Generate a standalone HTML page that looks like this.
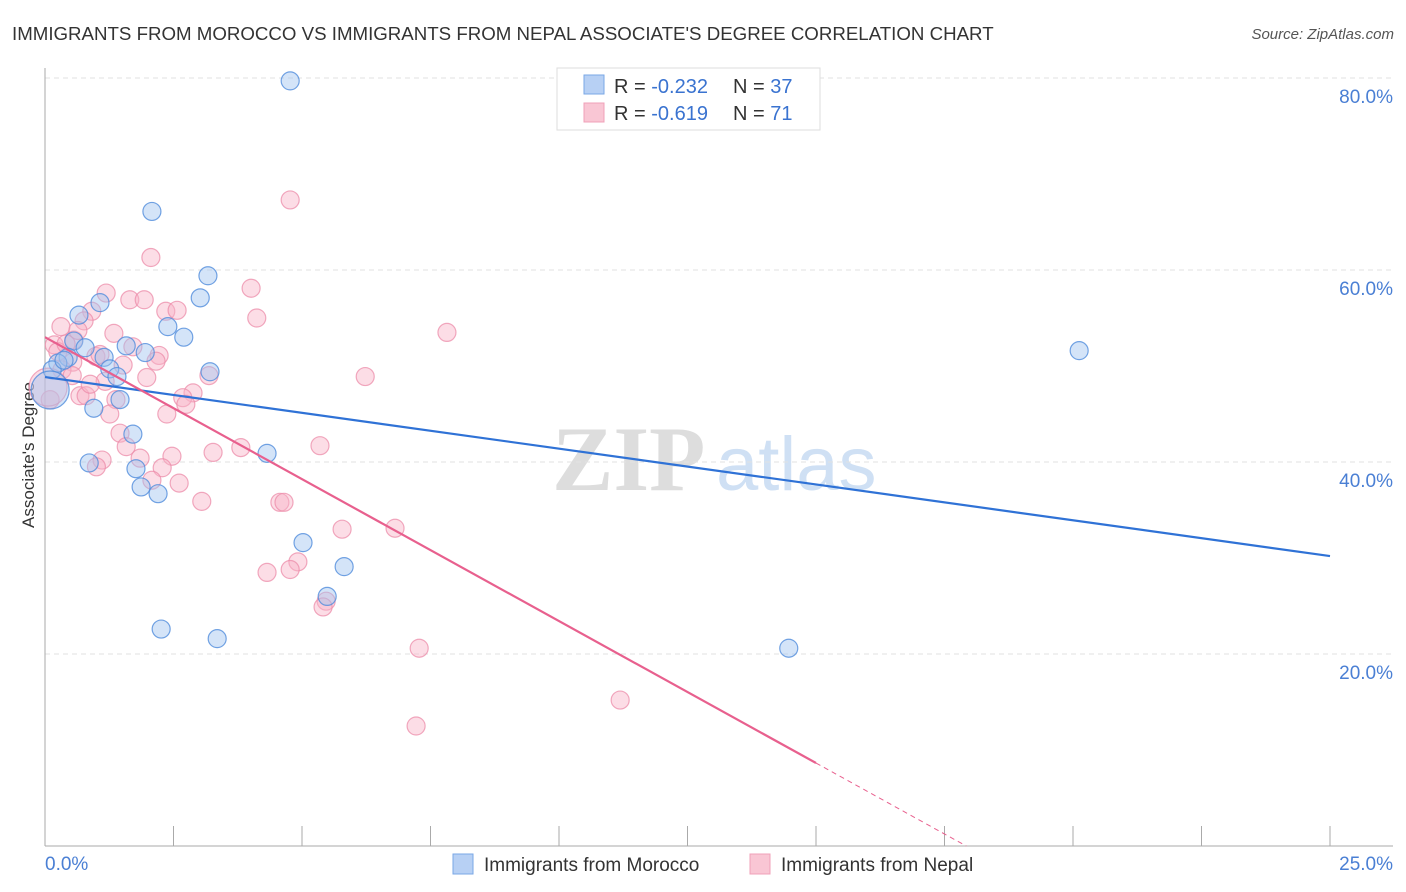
<!DOCTYPE html>
<html><head><meta charset="utf-8"><style>
body{margin:0;background:#fff;font-family:"Liberation Sans",sans-serif}
svg{display:block}
</style></head><body>
<svg id="c" width="1406" height="892">
<text x="12" y="40" font-size="18.7" fill="#333">IMMIGRANTS FROM MOROCCO VS IMMIGRANTS FROM NEPAL ASSOCIATE'S DEGREE CORRELATION CHART</text>
<text x="1394" y="39" font-size="15" fill="#555" text-anchor="end" font-style="italic">Source: ZipAtlas.com</text>
<g><text x="552" y="490" font-size="92" fill="#ddd" font-family="Liberation Serif,serif" font-weight="bold">ZIP</text><text x="716" y="490" font-size="76" fill="#cfe0f4">atlas</text></g>
<g id="grid"></g><g id="axes"></g>
<text x="34" y="455" font-size="17" fill="#333" text-anchor="middle" transform="rotate(-90 34 455)">Associate's Degree</text>
<g id="pts"></g><g id="trend"></g>
<g>
<rect x="557" y="68" width="263" height="62" fill="#fff" stroke="#ddd"/>
<rect x="584" y="75" width="20" height="19" fill="#b7d0f4" stroke="#7aa7e6"/>
<rect x="584" y="103" width="20" height="19" fill="#f9c6d4" stroke="#f0a0b8"/>
<text x="614" y="93" font-size="20" fill="#333">R = <tspan fill="#3a73d0">-0.232</tspan><tspan x="733">N = </tspan><tspan fill="#3a73d0">37</tspan></text>
<text x="614" y="120" font-size="20" fill="#333">R = <tspan fill="#3a73d0"> -0.619</tspan><tspan x="733">N = </tspan><tspan fill="#3a73d0"> 71</tspan></text>
</g>
<g>
<rect x="453" y="854" width="20" height="20" fill="#b7d0f4" stroke="#7aa7e6"/>
<text x="484" y="871" font-size="19" fill="#333">Immigrants from Morocco</text>
<rect x="750" y="854" width="20" height="20" fill="#f9c6d4" stroke="#f0a0b8"/>
<text x="781" y="871" font-size="19" fill="#333">Immigrants from Nepal</text>
</g>
</svg>
<script>
const xTicks=[0,2.5,5,7.5,10,12.5,15,17.5,20,22.5,25];
const yTicks=[20,40,60,80];
const yTickLabels=["20.0%","40.0%","60.0%","80.0%"];
const xEndLabels=["0.0%","25.0%"];
const moroccoX=[4.77,2.08,3.17,3.02,1.07,0.66,2.39,2.70,0.56,0.78,1.58,1.95,0.45,1.15,0.25,3.21,1.26,1.40,1.46,0.95,1.71,4.32,0.86,1.77,1.87,2.20,5.02,5.82,5.49,2.26,3.35,14.47,20.12,0.14,0.37,0.1];
const moroccoY=[79.7,66.1,59.4,57.1,56.6,55.3,54.1,53.0,52.6,51.9,52.1,51.4,50.9,50.9,50.3,49.4,49.7,48.9,46.5,45.6,42.9,40.9,39.9,39.3,37.4,36.7,31.6,29.1,26.0,22.6,21.6,20.6,51.6,49.6,50.6,47.5];
const nepalX=[4.77,2.06,4.01,1.19,1.65,1.93,2.35,2.57,0.91,4.12,0.76,7.82,0.31,1.34,0.56,0.18,1.71,2.22,1.52,2.16,0.54,0.99,0.33,0.53,1.98,3.19,6.23,1.17,2.88,2.68,2.74,1.38,0.68,0.80,1.26,2.37,1.46,3.81,3.27,1.58,5.35,1.85,2.47,1.11,1.0,2.28,2.08,2.61,3.05,4.57,4.65,5.78,6.81,4.92,4.77,4.32,5.47,5.41,7.28,7.22,11.19,0.1,0.25,0.88,0.41,1.07,0.64,0.06];
const nepalY=[67.3,61.3,58.1,57.6,56.9,56.9,55.7,55.8,55.7,55.0,54.7,53.5,54.1,53.4,52.7,52.2,52.0,51.1,50.1,50.5,50.4,51.0,49.6,49.0,48.8,49.0,48.9,48.4,47.2,46.7,46.0,46.5,46.9,46.9,45.0,45.0,43.0,41.5,41.0,41.6,41.7,40.4,40.6,40.2,39.5,39.4,38.1,37.8,35.9,35.8,35.8,33.0,33.1,29.6,28.8,28.5,25.5,24.9,20.6,12.5,15.2,46.5,51.5,48.1,52.3,51.2,53.7,47.8];
const moroccoTrend=[48.85,-0.746]; // intercept, slope
const nepalTrend=[53.0,-2.957];
const X=v=>45+v*51.4, Y=v=>846-v*9.6;
const NS="http://www.w3.org/2000/svg";
function mk(t,a,p){const e=document.createElementNS(NS,t);for(const k in a)e.setAttribute(k,a[k]);p.appendChild(e);return e;}
const grid=document.getElementById('grid'),axes=document.getElementById('axes');
yTicks.forEach((t,i)=>{
 const l=mk('line',{x1:45,x2:1393,y1:Y(t),y2:Y(t),stroke:'#e2e2e2','stroke-dasharray':'5,4'},grid);
 
 
 const tx=mk('text',{x:1393,y:Y(t)+25,'font-size':19,fill:'#4a7fd4','text-anchor':'end'},axes);
 tx.textContent=yTickLabels[i];
 
 
});
const xa=mk('line',{x1:45,x2:1393,y1:846,y2:846,stroke:'#aaa'},axes);


const ya=mk('line',{x1:45,x2:45,y1:68,y2:846,stroke:'#aaa'},axes);


xTicks.forEach(t=>{const l=mk('line',{x1:X(t),x2:X(t),y1:826,y2:846,stroke:'#aaa'},axes);
 
 });
const xl0=mk('text',{x:45,y:870,'font-size':19,fill:'#4a7fd4'},axes);xl0.textContent=xEndLabels[0];


const xl1=mk('text',{x:1393,y:870,'font-size':19,fill:'#4a7fd4','text-anchor':'end'},axes);xl1.textContent=xEndLabels[1];


const pts=document.getElementById('pts');
function dots(xs,ys,fill,stroke,name){xs.forEach((x,i)=>{const big=(x<0.12&&(ys[i]>47&&ys[i]<49));
 const c=mk('circle',{cx:X(x),cy:Y(ys[i]),r:big?19:9,fill:fill,stroke:stroke,'stroke-width':1.2},pts);
 
 });}
dots(nepalX,nepalY,'rgba(248,180,200,0.45)','rgba(236,140,170,0.75)','point-nepal');
dots(moroccoX,moroccoY,'rgba(160,196,240,0.45)','rgba(80,140,220,0.8)','point-morocco');
const tr=document.getElementById('trend');
const bl=mk('line',{x1:X(0),y1:Y(moroccoTrend[0]),x2:X(25),y2:Y(moroccoTrend[0]+25*moroccoTrend[1]),stroke:'#2f72d6','stroke-width':2.2},tr);


const pl=mk('line',{x1:X(0),y1:Y(nepalTrend[0]),x2:X(15),y2:Y(nepalTrend[0]+15*nepalTrend[1]),stroke:'#e8608e','stroke-width':2.2},tr);


const xz=-nepalTrend[0]/nepalTrend[1];
const pd=mk('line',{x1:X(15),y1:Y(nepalTrend[0]+15*nepalTrend[1]),x2:X(xz),y2:Y(0),stroke:'#e8608e','stroke-width':1,'stroke-dasharray':'5,4'},tr);


</script>
</body></html>
